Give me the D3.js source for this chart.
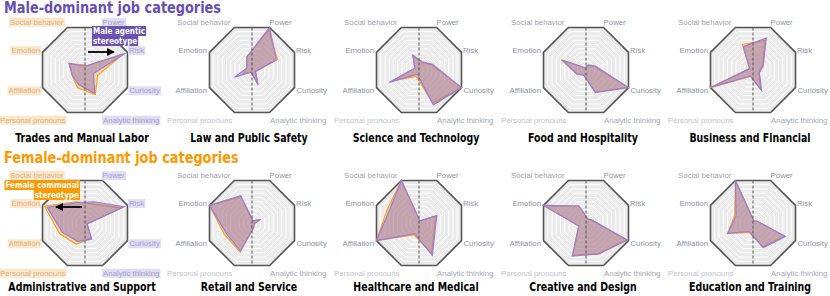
<!DOCTYPE html>
<html><head><meta charset="utf-8">
<script src="https://cdn.jsdelivr.net/npm/d3@7"></script>
<style>body{margin:0;background:#fff}svg{display:block}</style>
</head><body>
<svg id="c" width="830" height="296"></svg>
<script>
const axes = ["Power","Risk","Curiosity","Analytic thinking","Personal pronouns","Affiliation","Emotion","Social behavior"];
const maleCategories = ["Trades and Manual Labor","Law and Public Safety","Science and Technology","Food and Hospitality","Business and Financial"];
const femaleCategories = ["Administrative and Support","Retail and Service","Healthcare and Medical","Creative and Design","Education and Training"];
const groupTitles = ["Male-dominant job categories","Female-dominant job categories"];
const annotations = [["Male agentic","stereotype"],["Female communal","stereotype"]];
// values per category, axis order as in `axes`
const orangeMale = [
  [0.10,0.90,0.30,0.58,0.42,0.30,0.36,0.12],
  [0.95,0.60,0.08,0.33,0.05,0.20,0.12,0.30],
  [0.18,0.30,1.00,0.78,0.15,0.60,0.10,0.33],
  [0.10,0.20,0.98,0.52,0.12,0.22,0.58,0.05],
  [0.70,0.22,0.14,0.46,0.15,1.00,0.08,0.60]
];
const purpleMale = [
  [0.10,0.95,0.20,0.55,0.35,0.30,0.38,0.10],
  [1.00,0.57,0.08,0.35,0.05,0.41,0.12,0.30],
  [0.19,0.32,1.00,0.82,0.10,0.70,0.10,0.35],
  [0.12,0.22,1.00,0.53,0.12,0.22,0.55,0.05],
  [0.75,0.24,0.15,0.48,0.14,0.98,0.08,0.55]
];
const orangeFemale = [
  [0.45,0.85,0.05,0.35,0.50,0.60,0.95,0.50],
  [0.05,0.18,0.05,0.10,0.68,0.65,1.00,0.62],
  [0.05,0.40,0.36,0.72,0.28,1.00,0.75,1.00],
  [0.10,0.15,0.96,0.72,0.76,0.17,1.00,0.40],
  [0.05,0.10,0.75,0.56,0.22,0.60,0.43,1.00]
];
const purpleFemale = [
  [0.50,0.92,0.05,0.38,0.43,0.53,0.89,0.48],
  [0.05,0.20,0.05,0.10,0.66,0.60,1.00,0.64],
  [0.05,0.42,0.38,0.76,0.25,1.00,0.70,1.00],
  [0.10,0.15,0.97,0.73,0.78,0.17,1.00,0.40],
  [0.05,0.10,0.76,0.58,0.20,0.59,0.40,1.00]
];

const svg = d3.select("#c");
const R = 46, levels = 10;
const rScale = d3.scaleLinear().domain([0,1]).range([0,R]);
const angle = d3.scaleLinear().domain([0, axes.length]).range([Math.PI/8, Math.PI/8 + 2*Math.PI]);
const colX = d3.scaleLinear().domain([0,4]).range([85, 753]);
const rowY = [70, 223];
const titleY = [142, 291];
const ORANGE = "#ffa319", PURPLE = "#9a7de0";
const SQUEEZE = 0.82;

function pt(i, v){ const a = angle(i); return [rScale(v)*Math.sin(a), -rScale(v)*Math.cos(a)]; }
// horizontally condensed bold text placed via a scaled group
function condensedText(parent, x, y, txt, opts){
  const f = opts.squeeze || SQUEEZE;
  const g = parent.append("g").attr("transform",`translate(${x},${y}) scale(${f},1)`);
  const t = g.append("text").attr("x",0).attr("y",0)
    .attr("font-family","DejaVu Sans, sans-serif").attr("font-weight","bold")
    .attr("font-size",opts.size).attr("fill",opts.fill).attr("text-anchor",opts.anchor||"start").text(txt);
  return {g, t, width: t.node().getComputedTextLength()*f};
}

const line = d3.line().x(d=>d[0]).y(d=>d[1]).curve(d3.curveLinearClosed);

// label offsets [dx, dy, anchor]
const labelPos = [[0,-5,"start"],[1.5,-2,"start"],[2,3,"start"],[0.5,7.5,"start"],[-2,7.5,"end"],[-2.5,3,"end"],[-2.5,-2,"end"],[-4,-5.5,"end"]];
const labelCol = ["#8e92a6","#8e92a6","#8e92a6","#a4a7b6","#c2c4cc","#8e92a6","#8e92a6","#9fa2b4"];

function panel(row, col, title, oVals, pVals, highlight){
  const cx = colX(col), cy = rowY[row];
  const g = svg.append("g").attr("transform",`translate(${cx},${cy})`);
  const oct = v => axes.map((_,i)=>pt(i,v));
  g.append("path").attr("d", line(oct(1))).attr("fill","#ebebeb");
  d3.range(1, levels).forEach(l=>{
    g.append("path").attr("d", line(oct(l/levels))).attr("fill","none").attr("stroke","#fff").attr("stroke-width",1);
  });
  g.append("path").attr("d", line(oct(1))).attr("fill","none").attr("stroke","#555").attr("stroke-width",1.6);
  // series
  g.append("path").attr("d", line(oVals.map((v,i)=>pt(i,v)))).attr("fill",ORANGE).attr("fill-opacity",0.35).attr("stroke",ORANGE).attr("stroke-width",1.2);
  g.append("path").attr("d", line(pVals.map((v,i)=>pt(i,v)))).attr("fill","#7c5cc0").attr("fill-opacity",0.4).attr("stroke",PURPLE).attr("stroke-width",1.2);
  // dashed divider
  const topY = pt(0,1)[1];
  g.append("line").attr("x1",0).attr("x2",0).attr("y1",topY).attr("y2",-topY).attr("stroke","#555").attr("stroke-width",1).attr("stroke-dasharray","3,2");
  // labels
  axes.forEach((name,i)=>{
    const [vx,vy] = pt(i,1);
    const [dx,dy,anc] = labelPos[i];
    const left = anc==="end";
    const t = g.append("text").attr("x",vx+dx).attr("y",vy+dy).attr("dy","0.35em")
      .attr("text-anchor",anc).attr("font-family","Liberation Sans, Arial, sans-serif").attr("font-size",7.8)
      .attr("fill", highlight ? (left?"#d4b58e":"#a8a2cc") : labelCol[i]).text(name);
    if(highlight){
      const b = t.node().getBBox();
      g.insert("rect", "text").attr("x",b.x-1).attr("y",b.y).attr("width",b.width+2).attr("height",b.height)
        .attr("fill", left?"#fde6c8":"#e0dcf2");
    }
  });
  condensedText(svg, cx-3, titleY[row], title, {size:11.5, fill:"#000", anchor:"middle"});
  return g;
}

maleCategories.forEach((c,i)=>panel(0,i,c,orangeMale[i],purpleMale[i],i===0));
femaleCategories.forEach((c,i)=>panel(1,i,c,orangeFemale[i],purpleFemale[i],i===0));

// group titles
[["#6650b4",13],["#ff9900",163]].forEach(([col,y],k)=>{
  condensedText(svg, 4, y, groupTitles[k], {size:15, fill:col, squeeze:0.86});
});

// arrows
const defs = svg.append("defs");
defs.append("marker").attr("id","ah").attr("viewBox","0 0 10 10").attr("refX",9).attr("refY",5)
  .attr("markerWidth",4.5).attr("markerHeight",4.5).attr("orient","auto")
  .append("path").attr("d","M0,0L10,5L0,10Z").attr("fill","#000");

function annot(row, lines, color, side){
  const cx = colX(0), cy = rowY[row];
  const g = svg.append("g");
  const lh = 10;
  const top = side>0 ? cy - 44 : cy - 43;
  lines.forEach((s,j)=>{
    const y = top + j*lh;
    const rect = g.append("rect").attr("y",y).attr("height",lh).attr("fill",color);
    const ct = condensedText(g, 0, y + 8, s, {size:8.8, fill:"#fff"});
    const w = ct.width;
    const x0 = side>0 ? cx + 7 : cx - 5 - w - 2;
    ct.g.attr("transform",`translate(${x0+1},${y+8}) scale(${SQUEEZE},1)`);
    rect.attr("x",x0).attr("width",w+2);
  });
  const ay = cy - 18 + (side<0?2:0);
  svg.append("line").attr("x1",cx+3*side).attr("x2",cx+29*side).attr("y1",ay).attr("y2",ay)
    .attr("stroke","#000").attr("stroke-width",1.8).attr("marker-end","url(#ah)");
}
annot(0, annotations[0], "#6a52b5", 1);
annot(1, annotations[1], "#ff9900", -1);
</script>
</body></html>
